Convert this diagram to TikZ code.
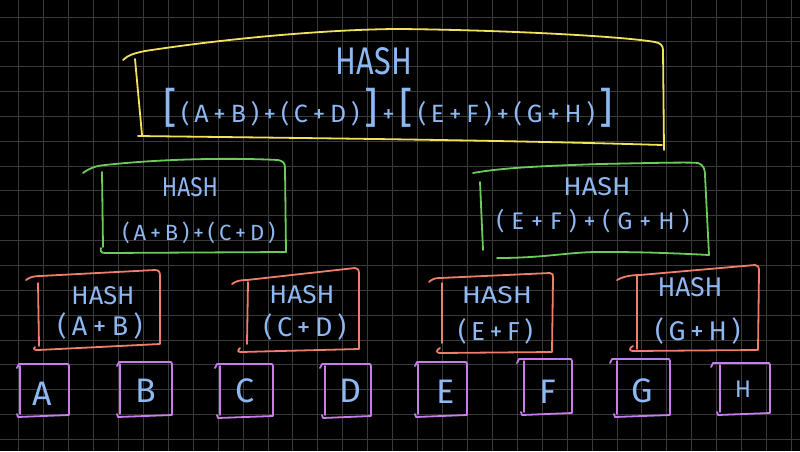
\documentclass[tikz,border=0pt]{standalone}
\usepackage{fontspec}
\usepackage{graphicx}
\setmainfont{Fira Sans}
\definecolor{gridc}{HTML}{3A3A3A}
\definecolor{yel}{HTML}{F2E15A}
\definecolor{grn}{HTML}{6DCB5B}
\definecolor{org}{HTML}{EE7F6B}
\definecolor{pur}{HTML}{C77DEB}
\definecolor{tblue}{HTML}{8DB8F2}
\newcommand\hw[3]{\resizebox{#1pt}{#2pt}{#3}}
\newcommand\spreadtext[3]{\fontsize{#2}{#2}\selectfont\makebox[#1pt][s]{#3}}
\newcommand\bbr[1]{{\fontsize{42}{42}\selectfont #1}}
\newcommand\pbox[5]{%
  \draw[pbx] (#1,#2+4) -- (#1+2,#2) -- (#3-1,#2) -- (#3,#2+2) -- (#3,#4-1) -- (#5-2,#4+1) -- (#5-3,#4-2);
  \draw[pbx] (#5,#2+2) -- (#5,#4-2);}
\tikzset{
  gridline/.style={draw=gridc, line width=1pt},
  hand/.style={line width=1.8pt, line cap=round, line join=round},
  ybx/.style={hand, draw=yel},
  gbx/.style={hand, draw=grn},
  obx/.style={hand, draw=org},
  pbx/.style={hand, draw=pur},
  txt/.style={text=tblue, inner sep=0pt},
  letter/.style={txt, anchor=base, font=\fontsize{34}{34}\selectfont},
}
\begin{document}
\begin{tikzpicture}[x=1pt,y=-1pt]
\useasboundingbox (0,0) rectangle (800,451);
\fill[black] (0,0) rectangle (800,451);
% grid
\foreach \i in {0,...,31} \draw[gridline] ({18.7+24.93*\i},0) -- ({18.7+24.93*\i},451);
\foreach \j in {0,...,17} \draw[gridline] (0,{17+24.85*\j}) -- (800,{17+24.85*\j});

% yellow box
\draw[ybx] (123,60) .. controls (128,55) and (135,53) .. (145,51) .. controls (250,35) and (350,29) .. (400,29) .. controls (500,30) and (620,36) .. (655,42) .. controls (660,43) and (663,45) .. (663,50) -- (664,150);
\draw[ybx] (138,136) .. controls (300,138) and (500,140) .. (662,145);
\draw[ybx] (135,59) -- (142,135);

% green boxes
\draw[gbx] (83,173) .. controls (90,168) and (95,166) .. (105,165) .. controls (170,158) and (240,158) .. (278,160) .. controls (283,161) and (285,163) .. (285,168) -- (286,252) -- (105,253) .. controls (101,253) and (100,251) .. (101,248);
\draw[gbx] (102,172) -- (103,247);
\draw[gbx] (473,173) .. controls (500,168) and (540,166) .. (600,164) .. controls (650,163) and (690,162) .. (698,163) .. controls (704,165) and (705,170) .. (705,175) -- (709,255);
\draw[gbx] (497,258) .. controls (550,258) and (570,251) .. (610,252) .. controls (650,252) and (690,254) .. (709,255);
\draw[gbx] (480,182) -- (483,250);

% orange boxes
\draw[obx] (26,280) .. controls (30,277) and (34,276) .. (40,276) -- (155,270) .. controls (159,270) and (160,272) .. (160,276) -- (160,344) -- (38,350) .. controls (34,350) and (33,349) .. (35,347);
\draw[obx] (38,283) -- (39,346);
\draw[obx] (232,284) .. controls (236,281) and (240,280) .. (247,280) -- (355,268) .. controls (358,268) and (359,270) .. (359,274) -- (359,349) -- (241,352) .. controls (238,352) and (237,351) .. (240,348);
\draw[obx] (248,282) -- (247,344);
\draw[obx] (429,282) .. controls (432,279) and (435,278) .. (440,278) -- (550,273) .. controls (553,273) and (553,275) .. (553,278) -- (552,352) -- (440,353) .. controls (436,353) and (436,350) .. (440,348);
\draw[obx] (442,283) -- (442,343);
\draw[obx] (617,280) .. controls (622,277) and (630,275) .. (640,275) -- (755,265) .. controls (758,265) and (759,267) .. (759,271) -- (758,350) -- (633,351) .. controls (629,351) and (629,348) .. (633,346);
\draw[obx] (637,276) -- (637,349);

% purple boxes
\pbox{17}{364}{69}{416}{20}
\pbox{117}{362}{172}{416}{120}
\pbox{215}{364}{273}{417}{220}
\pbox{320}{364}{371}{417}{325}
\pbox{415}{362}{467}{416}{418}
\pbox{517}{359}{572}{414}{524}
\pbox{610}{359}{670}{416}{617}
\pbox{711}{363}{770}{414}{720}

% texts
\node[txt] (yh) at (374,61) {\hw{76}{27}{HASH}};
\node[txt, anchor=base] (yl) at (388,122) {\spreadtext{450}{25}{\bbr{[} ( A + B ) + ( C + D ) \bbr{]} + \bbr{[} ( E + F ) + ( G + H ) \bbr{]}}};
\node[txt] (glh) at (190,187) {\hw{56}{19}{HASH}};
\node[txt, anchor=base] (gll) at (196,240) {\spreadtext{147}{22}{( A + B ) + ( C + D )}};
\node[txt] (grh) at (597,187) {\hw{67}{18}{HASH}};
\node[txt, anchor=base] (grl) at (593,229) {\spreadtext{193}{24}{( E + F ) + ( G + H )}};
\node[txt] (o1h) at (103,296) {\hw{63}{18}{HASH}};
\node[txt, anchor=base] (o1l) at (100,335) {\spreadtext{85}{27}{( A + B )}};
\node[txt] (o2h) at (302,295) {\hw{65}{18}{HASH}};
\node[txt, anchor=base] (o2l) at (302,336) {\spreadtext{77}{27}{( C + D )}};
\node[txt] (o3h) at (497,295) {\hw{70}{17}{HASH}};
\node[txt, anchor=base] (o3l) at (493,340) {\spreadtext{70}{26}{( E + F )}};
\node[txt] (o4h) at (690,287) {\hw{65}{19}{HASH}};
\node[txt, anchor=base] (o4l) at (694,340) {\spreadtext{78}{27}{( G + H )}};

\node[letter] (la) at (42,405) {A};
\node[letter] (lb) at (146,402) {B};
\node[letter] (lc) at (245,402) {C};
\node[letter] (ld) at (350,402) {D};
\node[letter] (le) at (446,403) {E};
\node[letter] (lf) at (548,403) {F};
\node[letter] (lg) at (642,402) {G};
\node[letter, font=\fontsize{24}{24}\selectfont] (lh) at (743,397) {H};
\end{tikzpicture}
\end{document}
